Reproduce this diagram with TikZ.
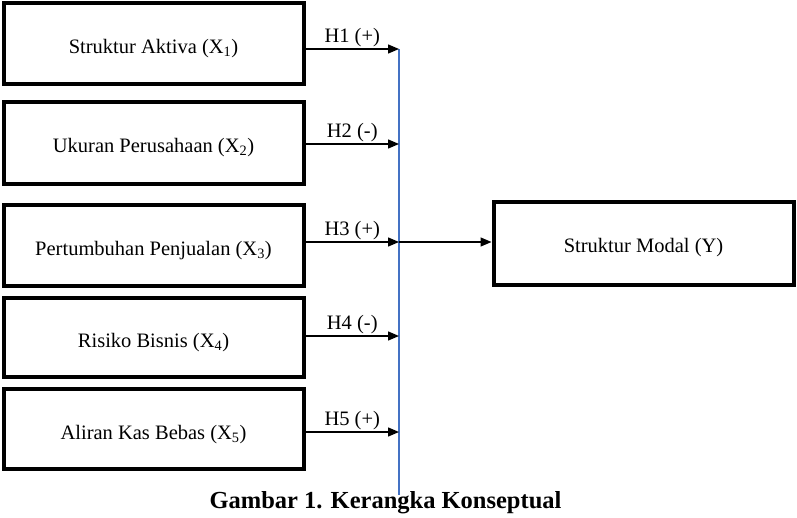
\documentclass[tikz,border=0pt]{standalone}
\usepackage{fontspec}
\setmainfont{Liberation Serif}
\usetikzlibrary{arrows.meta}
\begin{document}
\begin{tikzpicture}[x=1pt,y=-1pt,
  varbox/.style={draw=black,line width=4pt,minimum width=300pt,inner sep=0pt,text height=22pt,text depth=2pt,font=\fontsize{20.5}{23}\selectfont},
  arr/.style={line width=1.4pt,-{Triangle[length=11pt,width=9pt]}},
  hlab/.style={font=\fontsize{20.5}{23}\selectfont,inner sep=1.5pt,anchor=south}]
\useasboundingbox (0,0) rectangle (797,517);
\node[varbox,minimum height=81pt] (x1) at (153.5,43.5) {Struktur Aktiva (X\textsubscript{1})};
\node[varbox,minimum height=82pt] (x2) at (153.5,142.5) {Ukuran Perusahaan (X\textsubscript{2})};
\node[varbox,minimum height=81pt] (x3) at (153.5,245) {Pertumbuhan Penjualan (X\textsubscript{3})};
\node[varbox,minimum height=79pt] (x4) at (153.5,337) {Risiko Bisnis (X\textsubscript{4})};
\node[varbox,minimum height=80pt] (x5) at (153.5,429) {Aliran Kas Bebas (X\textsubscript{5})};
\node[varbox,minimum width=300pt,minimum height=83pt,text height=20pt] (y) at (643.5,243) {Struktur Modal (Y)};
\coordinate (t1) at (399,49);
\coordinate (t2) at (399,144);
\coordinate (t3) at (399,242);
\coordinate (t4) at (399,336);
\coordinate (t5) at (399,432);
\coordinate (vb) at (399,495);
\draw[color={rgb,255:red,68;green,114;blue,196},line width=1.2pt] (t1) -- (vb);
\draw[arr] (x1.east |- t1) -- (t1) node[hlab,midway] {H1 (+)};
\draw[arr] (x2.east |- t2) -- (t2) node[hlab,midway] {H2 (-)};
\draw[arr] (x3.east |- t3) -- (t3) node[hlab,midway] {H3 (+)};
\draw[arr] (x4.east |- t4) -- (t4) node[hlab,midway] {H4 (-)};
\draw[arr] (x5.east |- t5) -- (t5) node[hlab,midway] {H5 (+)};
\draw[arr] (t3) -- (y.west |- t3);
\node[font=\fontsize{24.5}{27}\selectfont\bfseries,inner sep=0pt] (cap) at (385.5,503) {Gambar 1. Kerangka Konseptual};
\end{tikzpicture}
\end{document}
